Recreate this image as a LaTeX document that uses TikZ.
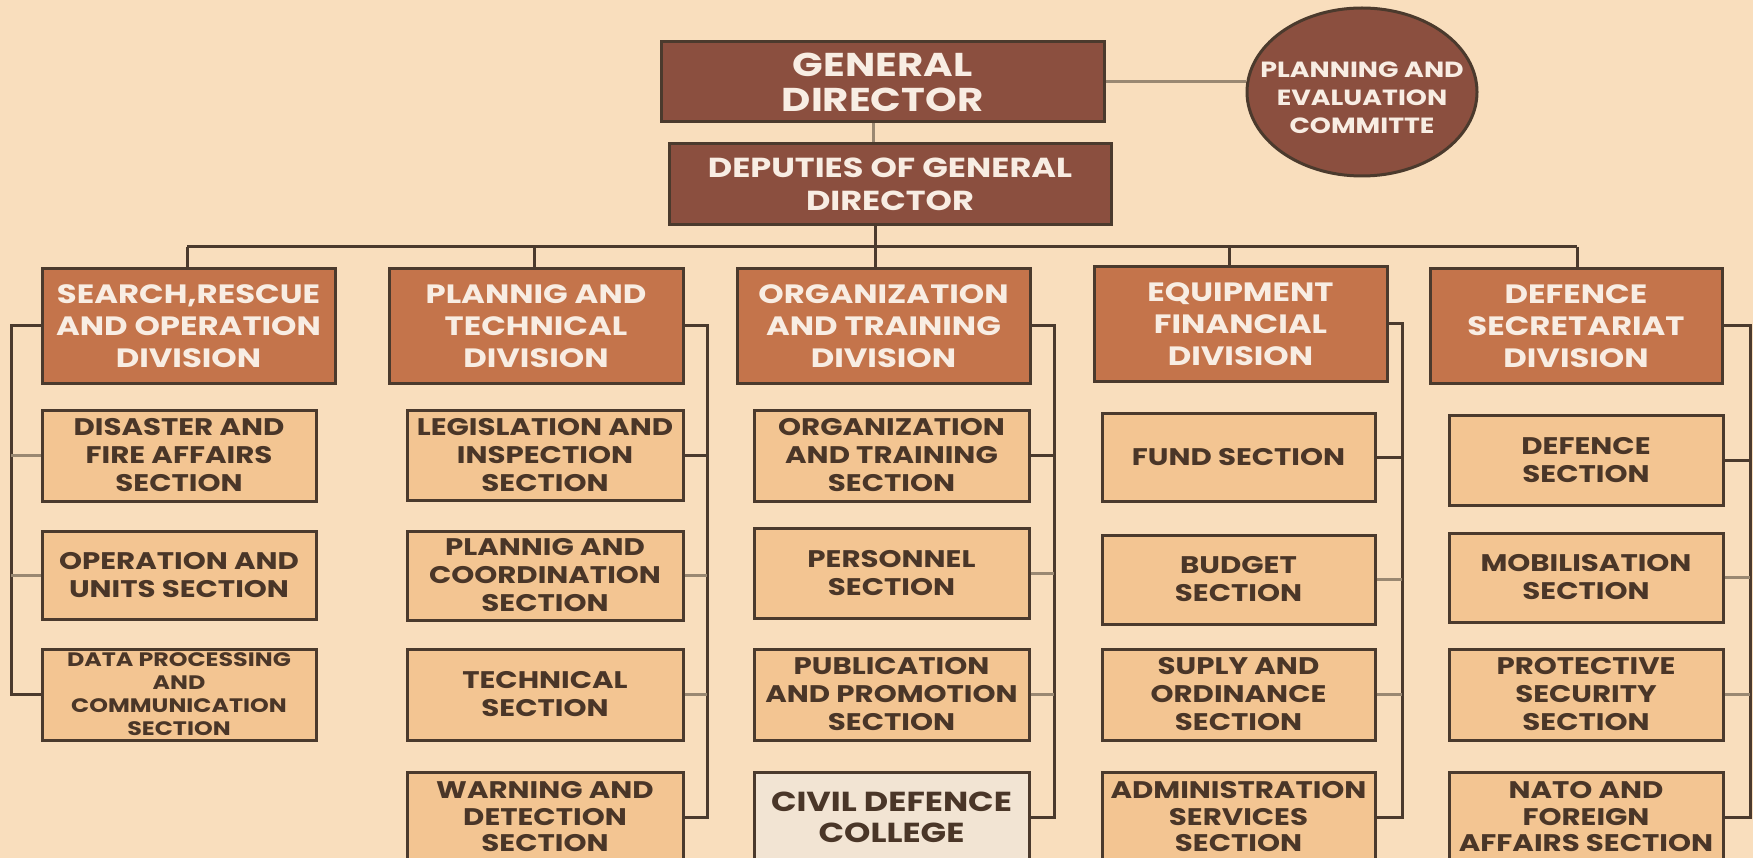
\documentclass[tikz,border=0pt]{standalone}
\usepackage{fontspec}
\setmainfont{Poppins}[FakeStretch=1.22]
\usetikzlibrary{shapes.geometric}
\definecolor{bgc}{HTML}{F9DEBD}
\definecolor{topc}{HTML}{8B4F3F}
\definecolor{divc}{HTML}{C4744B}
\definecolor{secc}{HTML}{F3C592}
\definecolor{colc}{HTML}{F2E4D3}
\definecolor{linec}{HTML}{4B3A2D}
\definecolor{grayc}{HTML}{9A8872}
\definecolor{lighttxt}{HTML}{F8EDE3}
\definecolor{darktxt}{HTML}{4A3628}
\tikzset{
  topbox/.style={draw=linec, line width=3pt, fill=topc, text=lighttxt, align=center, inner sep=0pt,
    font=\bfseries\fontsize{33}{35}\selectfont},
  divbox/.style={draw=linec, line width=3pt, fill=divc, text=lighttxt, align=center, inner sep=0pt,
    font=\bfseries\fontsize{26.5}{32}\selectfont, minimum width=293pt, minimum height=114pt},
  secbox/.style={draw=linec, line width=3pt, fill=secc, text=darktxt, align=center, inner sep=0pt,
    font=\bfseries\fontsize{24}{28}\selectfont, minimum width=275pt, minimum height=90pt},
  lastbox/.style={secbox, font=\bfseries\fontsize{24}{26.5}\selectfont},
  link/.style={draw=linec, line width=3pt},
  glink/.style={draw=grayc, line width=3pt}
}
\begin{document}
\begin{tikzpicture}[x=1pt,y=-1pt]
\useasboundingbox (0,0) rectangle (1753,858);
\clip (0,0) rectangle (1753,858);
\fill[bgc] (0,0) rectangle (1753,858);

% top
\node[topbox, minimum width=443pt, minimum height=80pt] (gd) at (882.5,82) {GENERAL\\DIRECTOR};
\node[topbox, minimum width=442pt, minimum height=81pt, font=\bfseries\fontsize{27.5}{33}\selectfont] (dep) at (890,184.5) {DEPUTIES OF GENERAL\\DIRECTOR};
\node[ellipse, draw=linec, line width=3pt, fill=topc, inner sep=0pt,
  minimum width=230pt, minimum height=168pt] (pec) at (1362,92) {};
\node[text=lighttxt, align=center, inner sep=0pt, font=\bfseries\fontsize{22}{28}\selectfont, yshift=-6pt] (pect) at (pec.center) {PLANNING AND\\EVALUATION\\COMMITTE};

% divisions
\node[divbox] (search) at (188.5,326) {SEARCH,RESCUE\\AND OPERATION\\DIVISION};
\node[divbox, minimum width=294pt] (plan) at (536,326) {PLANNIG AND\\TECHNICAL\\DIVISION};
\node[divbox] (org) at (883.5,326) {ORGANIZATION\\AND TRAINING\\DIVISION};
\node[divbox] (equip) at (1240.5,324) {EQUIPMENT\\FINANCIAL\\DIVISION};
\node[divbox, minimum width=292pt] (def) at (1576,326) {DEFENCE\\SECRETARIAT\\DIVISION};

% sections: search
\node[secbox, minimum width=274pt, minimum height=91pt] (s1) at (179,455.5) {DISASTER AND\\FIRE AFFAIRS\\SECTION};
\node[secbox, minimum width=274pt, minimum height=88pt] (s2) at (179,575) {OPERATION AND\\UNITS SECTION};
\node[secbox, minimum width=274pt, minimum height=91pt, font=\bfseries\fontsize{19.5}{23}\selectfont] (s3) at (179,694.5) {DATA PROCESSING\\AND\\COMMUNICATION\\SECTION};
% plan
\node[secbox, minimum width=276pt] (p1) at (545,455) {LEGISLATION AND\\INSPECTION\\SECTION};
\node[secbox, minimum width=276pt, minimum height=89pt] (p2) at (545,575.5) {PLANNIG AND\\COORDINATION\\SECTION};
\node[secbox, minimum width=276pt, minimum height=91pt] (p3) at (545,694.5) {TECHNICAL\\SECTION};
\node[lastbox, minimum width=276pt] (p4) at (545,817) {WARNING AND\\DETECTION\\SECTION};
% org
\node[secbox, minimum width=275pt, minimum height=91pt] (o1) at (891.5,455.5) {ORGANIZATION\\AND TRAINING\\SECTION};
\node[secbox, minimum width=275pt] (o2) at (891.5,573) {PERSONNEL\\SECTION};
\node[secbox, minimum width=275pt, minimum height=91pt] (o3) at (891.5,694.5) {PUBLICATION\\AND PROMOTION\\SECTION};
\node[secbox, minimum width=275pt, fill=colc, font=\bfseries\fontsize{27.5}{31}\selectfont] (o4) at (891.5,817) {CIVIL DEFENCE\\COLLEGE};
% equip
\node[secbox, minimum width=273pt, minimum height=88pt] (e1) at (1238.5,457) {FUND SECTION};
\node[secbox, minimum width=273pt, minimum height=89pt] (e2) at (1238.5,579.5) {BUDGET\\SECTION};
\node[secbox, minimum width=273pt, minimum height=91pt] (e3) at (1238.5,694.5) {SUPLY AND\\ORDINANCE\\SECTION};
\node[lastbox, minimum width=273pt] (e4) at (1238.5,817) {ADMINISTRATION\\SERVICES\\SECTION};
% def
\node[secbox, minimum width=274pt] (d1) at (1586,460) {DEFENCE\\SECTION};
\node[secbox, minimum width=274pt, minimum height=89pt] (d2) at (1586,577.5) {MOBILISATION\\SECTION};
\node[secbox, minimum width=274pt, minimum height=91pt] (d3) at (1586,694.5) {PROTECTIVE\\SECURITY\\SECTION};
\node[lastbox, minimum width=274pt] (d4) at (1586,817) {NATO AND\\FOREIGN\\AFFAIRS SECTION};

% coordinates
\coordinate (gx) at (873,0);
\coordinate (bx) at (875,247);
\coordinate (b1) at (187,247);
\coordinate (b2) at (534,247);
\coordinate (b4) at (1229,247);
\coordinate (b5) at (1577,247);
\coordinate (sp1) at (11,0);
\coordinate (sp2) at (707,0);
\coordinate (sp3) at (1054,0);
\coordinate (sp4) at (1402,0);
\coordinate (sp5) at (1750,0);

% connectors
\draw[glink] (gd.south -| gx) -- (dep.north -| gx);
\draw[glink] (gd.east) -- (gd.east -| pec.west);
\draw[link] (dep.south -| bx) -- (bx);
\draw[link] (b1) -- (b5);
\draw[link] (b1) -- (search.north -| b1);
\draw[link] (b2) -- (plan.north -| b2);
\draw[link] (bx) -- (org.north -| bx);
\draw[link] (b4) -- (equip.north -| b4);
\draw[link] (b5) -- (def.north -| b5);

\draw[link] (search.west) -| (s3.west -| sp1) -- (s3.west);
\draw[glink] (s1.west) -- (s1.west -| sp1);
\draw[glink] (s2.west) -- (s2.west -| sp1);

\draw[link] (plan.east) -| (p4.east -| sp2) -- (p4.east);
\draw[link] (p1.east) -- (p1.east -| sp2);
\draw[glink] (p2.east) -- (p2.east -| sp2);
\draw[glink] (p3.east) -- (p3.east -| sp2);

\draw[link] (org.east) -| (o4.east -| sp3) -- (o4.east);
\draw[link] (o1.east) -- (o1.east -| sp3);
\draw[glink] (o2.east) -- (o2.east -| sp3);
\draw[glink] (o3.east) -- (o3.east -| sp3);

\draw[link] (equip.east) -| (e4.east -| sp4) -- (e4.east);
\draw[link] (e1.east) -- (e1.east -| sp4);
\draw[glink] (e2.east) -- (e2.east -| sp4);
\draw[glink] (e3.east) -- (e3.east -| sp4);

\draw[link] (def.east) -| (d4.east -| sp5) -- (d4.east);
\draw[link] (d1.east) -- (d1.east -| sp5);
\draw[glink] (d2.east) -- (d2.east -| sp5);
\draw[glink] (d3.east) -- (d3.east -| sp5);
\end{tikzpicture}
\end{document}
